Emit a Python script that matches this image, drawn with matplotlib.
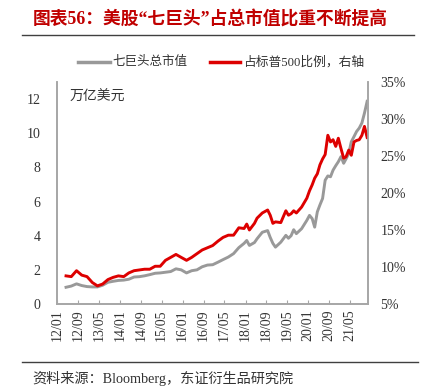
import matplotlib
matplotlib.use("Agg")
import matplotlib.pyplot as plt
import matplotlib.dates as mdates
import pandas as pd

dates = ["2012-04", "2012-06", "2012-08", "2012-10", "2012-12", "2013-02", "2013-04",
         "2013-06", "2013-08", "2013-10", "2013-12", "2014-02", "2014-04", "2014-06",
         "2014-08", "2014-10", "2014-12", "2015-02", "2015-04", "2015-06", "2015-08",
         "2015-10", "2015-12", "2016-02", "2016-04", "2016-06", "2016-08", "2016-10",
         "2016-12", "2017-02", "2017-04", "2017-06", "2017-08", "2017-10", "2017-12",
         "2018-01", "2018-02", "2018-04", "2018-05", "2018-07", "2018-09", "2018-10",
         "2018-11", "2018-12", "2019-02", "2019-04", "2019-05", "2019-06", "2019-07",
         "2019-08", "2019-10", "2019-12", "2020-01", "2020-02", "2020-03", "2020-04",
         "2020-05", "2020-06", "2020-07", "2020-08", "2020-09", "2020-10", "2020-11",
         "2020-12", "2021-01", "2021-02", "2021-03", "2021-04", "2021-05", "2021-06",
         "2021-07", "2021-08", "2021-09", "2021-10", "2021-11"]

mega7_cap = [0.98, 1.05, 1.18, 1.08, 1.02, 1.00, 1.00, 1.10, 1.27, 1.33, 1.38, 1.40, 1.45,
             1.58, 1.60, 1.65, 1.72, 1.80, 1.82, 1.86, 1.90, 2.06, 2.00, 1.82, 1.95, 2.00,
             2.18, 2.28, 2.30, 2.45, 2.60, 2.75, 2.95, 3.30, 3.55, 3.72, 3.43, 3.60, 3.82,
             4.20, 4.30, 3.90, 3.55, 3.33, 3.62, 4.02, 3.85, 4.00, 4.35, 4.12, 4.41, 4.90,
             5.19, 5.00, 4.50, 5.40, 5.80, 6.18, 7.25, 7.50, 7.45, 7.84, 8.10, 8.33, 8.63,
             8.24, 8.50, 8.82, 9.50, 9.80, 10.10, 10.30, 10.60, 11.18, 11.87]

sp500_share = [8.8, 8.7, 9.5, 8.9, 8.7, 7.9, 7.45, 7.7, 8.3, 8.6, 8.8, 8.7, 9.2, 9.5, 9.6,
               9.7, 9.7, 10.1, 10.1, 10.9, 11.3, 11.7, 11.3, 10.9, 11.3, 11.8, 12.3, 12.6,
               12.9, 13.5, 14.0, 14.3, 14.3, 15.3, 15.2, 15.8, 15.0, 15.9, 16.6, 17.3, 17.7,
               17.0, 15.9, 16.1, 16.0, 17.6, 17.0, 17.2, 17.6, 17.3, 18.1, 19.3, 20.3, 21.1,
               22.0, 22.6, 23.8, 24.6, 25.2, 27.8, 26.9, 27.2, 26.3, 27.4, 26.0, 24.7, 24.9,
               25.8, 25.1, 26.9, 27.1, 27.2, 27.8, 29.0, 27.5]

left_ticks = [0, 2, 4, 6, 8, 10, 12]
right_ticks = [5, 10, 15, 20, 25, 30, 35]

title_text = "图表56：美股“七巨头”占总市值比重不断提高"
legend_labels = ["七巨头总市值", "占标普500比例，右轴"]
unit_text = "万亿美元"
source_text = "资料来源：Bloomberg，东证衍生品研究院"

FAM = ["Liberation Serif", "Noto Sans CJK SC", "DejaVu Sans"]
plt.rcParams["font.family"] = FAM

x = pd.to_datetime(dates, format="%Y-%m") + pd.Timedelta(days=14)

fig = plt.figure(figsize=(4.27, 3.92), dpi=100)
ax = fig.add_axes([57 / 427, 1 - 304 / 392, (368 - 57) / 427, (304 - 82) / 392])
ax2 = ax.twinx()

gray = "#999999"
red = "#DD0000"
ax.plot(x, mega7_cap, color=gray, lw=2.1, solid_joinstyle="round")
ax2.plot(x, sp500_share, color=red, lw=2.1, solid_joinstyle="round")

ax.set_ylim(0, 13)
ax2.set_ylim(5, 35)
ax.set_yticks(left_ticks)
ax2.set_yticks(right_ticks)
ax2.set_yticklabels([f"{v}%" for v in right_ticks])

xt = pd.date_range("2012-01-01", "2021-05-01", freq="8MS")
ax.set_xlim(pd.Timestamp("2012-01-01"), pd.Timestamp("2021-11-25"))
ax.set_xticks(xt)
ax.xaxis.set_major_formatter(mdates.DateFormatter("%y/%m"))
for lab in ax.get_xticklabels():
    lab.set_rotation(90)

spc = "#A6A6A6"
for a in (ax, ax2):
    a.spines["top"].set_visible(False)
    for s in ("left", "right", "bottom"):
        a.spines[s].set_color(spc)
        a.spines[s].set_linewidth(1.2)
ax.tick_params(axis="x", direction="in", length=3, color=spc, labelsize=10,
               labelcolor="#333333", pad=4)
ax.tick_params(axis="y", length=0, labelsize=10, labelcolor="#333333", pad=12)
ax2.tick_params(axis="y", length=0, labelsize=10, labelcolor="#333333", pad=9)

ax.text(0.04, 0.96, unit_text, transform=ax.transAxes, fontsize=10, color="#333333",
        va="top", ha="left")

# title
fig.text(33 / 427, 1 - 20 / 392, title_text, color="#C00000", fontsize=12.8,
         fontweight="bold", va="center", ha="left")
fig.add_artist(plt.Line2D([22 / 427, 414 / 427], [1 - 35 / 392, 1 - 35 / 392],
                          color="#404040", lw=1.0))

# legend
ly = 1 - 62 / 392
fig.add_artist(plt.Line2D([78 / 427, 110 / 427], [ly, ly], color=gray, lw=2.5))
fig.text(112 / 427, ly, legend_labels[0], fontsize=9, color="#333333", va="center", ha="left")
fig.add_artist(plt.Line2D([210 / 427, 240 / 427], [ly, ly], color=red, lw=2.5))
fig.text(243 / 427, ly, legend_labels[1], fontsize=9.2, color="#333333", va="center", ha="left")

# footer
fig.add_artist(plt.Line2D([22 / 427, 418 / 427], [1 - 362 / 392, 1 - 362 / 392],
                          color="#404040", lw=1.0))
fig.text(32 / 427, 1 - 378 / 392, source_text, fontsize=10.2, color="#333333",
         va="center", ha="left")

fig.savefig("out.png", dpi=100)
